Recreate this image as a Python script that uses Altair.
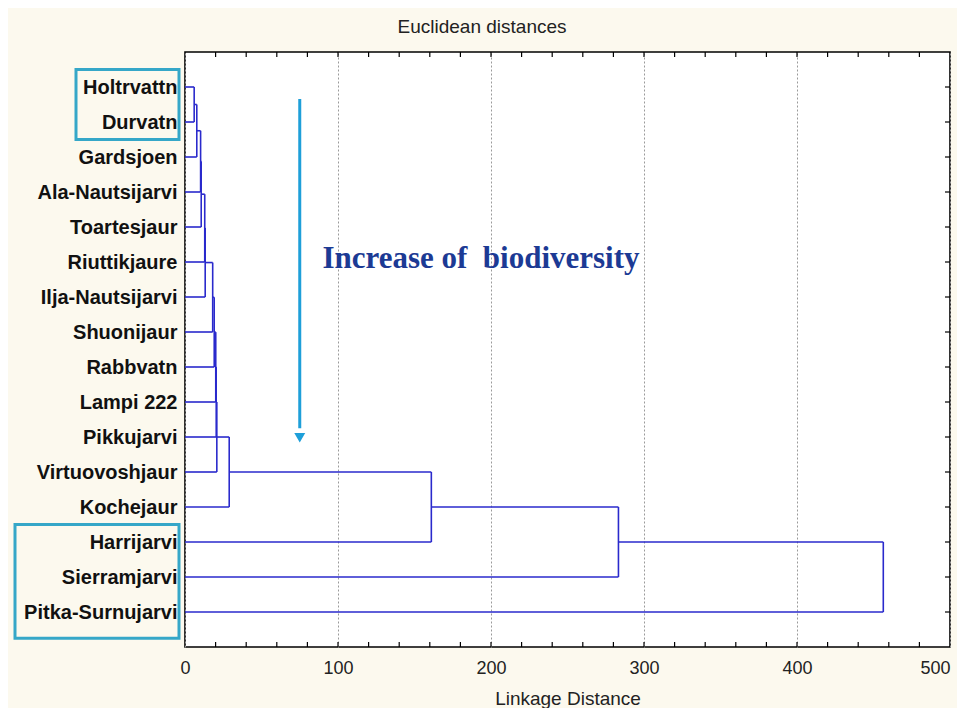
import altair as alt
import pandas as pd

# ---------------- data ----------------
leaves = ["Holtrvattn", "Durvatn", "Gardsjoen", "Ala-Nautsijarvi", "Toartesjaur",
          "Riuttikjaure", "Ilja-Nautsijarvi", "Shuonijaur", "Rabbvatn", "Lampi 222",
          "Pikkujarvi", "Virtuovoshjaur", "Kochejaur", "Harrijarvi", "Sierramjarvi",
          "Pitka-Surnujarvi"]

# linkage (scipy style): ids >= 16 are clusters formed by earlier rows
link_a = [0, 16, 17, 18, 19, 20, 21, 22, 23, 24, 25, 26, 27, 28, 29]
link_b = [1, 2, 3, 4, 5, 6, 7, 8, 9, 10, 11, 12, 13, 14, 15]
link_d = [6.0, 7.7, 10.2, 10.6, 12.9, 13.2, 18.1, 19.1, 20.1, 20.4, 20.8, 28.9,
          161.0, 283.3, 456.4]

x_labels = [0, 100, 200, 300, 400, 500]
minor_ticks = list(range(20, 500, 20))

# ---------------- dendrogram segments ----------------
n = len(leaves)
pos = {i: i + 1 for i in range(n)}
hgt = {i: 0.0 for i in range(n)}
segs = []
for k, (a, b, d) in enumerate(zip(link_a, link_b, link_d)):
    for c in (a, b):
        segs.append(dict(x=hgt[c], x2=d, y=pos[c], y2=pos[c]))
    segs.append(dict(x=d, x2=d, y=pos[a], y2=pos[b]))
    cid = n + k
    pos[cid] = (pos[a] + pos[b]) / 2
    hgt[cid] = d
seg_df = pd.DataFrame(segs)

W, H = 765, 595
FONT = "Liberation Sans"

label_expr = "[" + ",".join("'" + s + "'" for s in leaves) + "][datum.value - 1]"

xscale = alt.Scale(domain=[0, 500], nice=False, zero=False)
yscale = alt.Scale(domain=[0, 17], nice=False, zero=False, reverse=True)

xaxis = alt.Axis(values=x_labels, grid=True, gridDash=[2, 2], gridColor="#9a9a9a",
                 gridWidth=1, ticks=False, domain=False, labelFontSize=18,
                 labelFont=FONT, labelColor="#222222", labelPadding=12,
                 labelFlush=False,
                 labelAlign={"condition": {"test": "datum.value >= 500",
                                           "value": "right"},
                             "value": "center"},
                 title="Linkage Distance", titleFontSize=19,
                 titleFont=FONT, titleFontWeight="normal", titleColor="#222222",
                 titlePadding=12)
yaxis = alt.Axis(values=list(range(1, n + 1)), labelExpr=label_expr, grid=False,
                 ticks=False, domain=False, labelFontSize=20, labelFont=FONT,
                 labelFontWeight="bold", labelColor="#111111", labelPadding=8,
                 title="")


def X(f):
    return alt.X(f"{f}:Q", scale=xscale, axis=xaxis)


def Y(f):
    return alt.Y(f"{f}:Q", scale=yscale, axis=yaxis)


dendro = alt.Chart(seg_df).mark_rule(color="#2a2acc", strokeWidth=1.6).encode(
    x=X("x"), x2="x2", y=Y("y"), y2="y2")

tick_df = pd.DataFrame({"x": minor_ticks})
ticks_bottom = alt.Chart(tick_df).mark_rule(color="#000", strokeWidth=1.2).encode(
    x=X("x"), y=alt.value(H), y2=alt.value(H - 5))
ticks_top = alt.Chart(tick_df).mark_rule(color="#000", strokeWidth=1.2).encode(
    x=X("x"), y=alt.value(0), y2=alt.value(5))

leaf_df = pd.DataFrame({"y": list(range(1, n + 1))})
ticks_right = alt.Chart(leaf_df).mark_rule(color="#000", strokeWidth=1.2).encode(
    y=Y("y"), x=alt.value(W), x2=alt.value(W - 5))

# annotations
box1 = alt.Chart(pd.DataFrame({"y": [0.5], "y2": [2.5]})).mark_rect(
    fillOpacity=0, stroke="#35a7c8", strokeWidth=3).encode(
    y=Y("y"), y2="y2", x=alt.value(-109), x2=alt.value(-6))
box2 = alt.Chart(pd.DataFrame({"y": [13.5], "y2": [16.75]})).mark_rect(
    fillOpacity=0, stroke="#35a7c8", strokeWidth=3).encode(
    y=Y("y"), y2="y2", x=alt.value(-170), x2=alt.value(-6))

arrow_df = pd.DataFrame({"x": [75], "y": [1.34], "y2": [10.75]})
arrow = alt.Chart(arrow_df).mark_rule(color="#1e9fd9", strokeWidth=3).encode(
    x=X("x"), y=Y("y"), y2="y2")
head = alt.Chart(pd.DataFrame({"x": [75], "y": [11.02]})).mark_point(
    shape="triangle-down", filled=True, color="#1e9fd9", size=120, opacity=1).encode(
    x=X("x"), y=Y("y"))

note = alt.Chart(pd.DataFrame({"x": [89.8], "y": [6.16],
                               "t": ["Increase of \u00a0biodiversity"]})).mark_text(
    font="Liberation Serif", fontWeight="bold", fontSize=31, color="#1c3a94",
    align="left", baseline="alphabetic").encode(x=X("x"), y=Y("y"), text="t:N")

chart = alt.layer(dendro, ticks_bottom, ticks_top, ticks_right, box1, box2,
                  arrow, head, note).properties(
    width=W, height=H,
    title=alt.TitleParams("Euclidean distances", anchor="middle", frame="bounds",
                          fontSize=19, fontWeight="normal", font=FONT,
                          color="#222222", offset=14),
    autosize=alt.AutoSizeParams(type="none"),
    padding={"left": 177, "top": 44, "right": 7, "bottom": 61},
    background="#fcf9ee",
).configure_view(fill="#ffffff", stroke="#000000", strokeWidth=1.6)

chart.save("out.html", embed_options={"renderer": "svg", "actions": False})
